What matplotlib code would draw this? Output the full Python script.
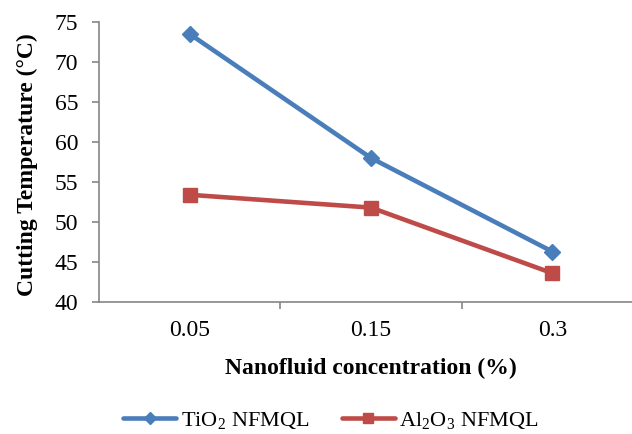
import matplotlib
matplotlib.use("Agg")
import matplotlib.pyplot as plt

categories = ["0.05", "0.15", "0.3"]
tio2 = [73.5, 58.0, 46.3]
al2o3 = [53.4, 51.8, 43.6]

plt.rcParams['font.family'] = ['Liberation Serif', 'DejaVu Serif']
plt.rcParams['mathtext.fontset'] = 'custom'
plt.rcParams['mathtext.rm'] = 'Liberation Serif'

fig = plt.figure(figsize=(6.32, 4.34), dpi=100)
# plot area: left spine at x~99px, bottom at y~302px, top (75) at y~22px
ax = fig.add_axes([99/632, 1-302/434, (643-99)/632, (302-22)/434])

x = list(range(len(categories)))
ax.plot(x, tio2, color='#4A7EBB', lw=3.3, marker='D', ms=8.5,
        label='TiO$_2$ NFMQL', solid_capstyle='round')
ax.plot(x, al2o3, color='#BE4B48', lw=3.3, marker='s', ms=9.5,
        label='Al$_2$O$_3$ NFMQL', solid_capstyle='round')

ax.set_xlim(-0.5, 2.5)
ax.set_ylim(40, 75)
ax.set_yticks(range(40, 76, 5))
ax.set_xticks(x)
ax.set_xticklabels(categories)
ax.set_xticks([0.5, 1.5], minor=True)
ax.tick_params(axis='x', which='major', length=0, pad=13, labelsize=17)
ax.tick_params(axis='x', which='minor', length=5, color='#868686', width=1.2)
ax.tick_params(axis='y', length=5, color='#868686', width=1.2, labelsize=17, pad=10)

for s in ['top', 'right']:
    ax.spines[s].set_visible(False)
for s in ['left', 'bottom']:
    ax.spines[s].set_color('#868686')
    ax.spines[s].set_linewidth(1.2)

ax.set_xlabel('Nanofluid concentration (%)', fontsize=17, fontweight='bold')
ax.set_ylabel('Cutting Temperature (°C)', fontsize=17, fontweight='bold')
ax.xaxis.set_label_coords(0.5, -0.2)
ax.yaxis.set_label_coords(-0.112, 0.49)

fig.legend(loc='center', bbox_to_anchor=(331/632, 1-421/434), ncol=2, frameon=False,
           fontsize=16, handlelength=2.4, columnspacing=1.45, handletextpad=0.2,
           markerscale=0.7)

fig.savefig('out.png', dpi=100)
